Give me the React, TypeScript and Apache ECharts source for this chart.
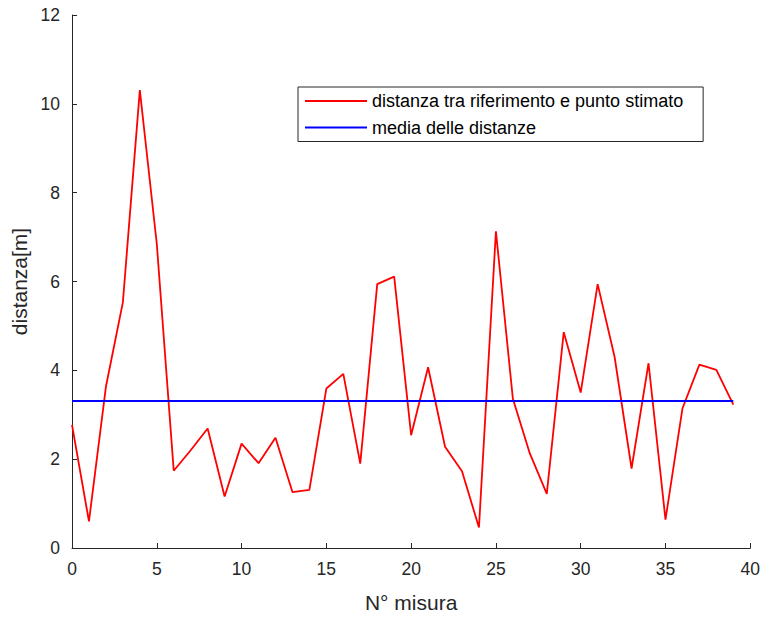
import React, { useEffect, useRef } from "react";
import * as echarts from "echarts";

const misure: number[] = Array.from({ length: 40 }, (_, i) => i);
const distanze: number[] = [
  2.77, 0.6, 3.63, 5.53, 10.31, 6.85, 1.74, 2.2, 2.69, 1.16,
  2.35, 1.91, 2.48, 1.26, 1.31, 3.59, 3.92, 1.9, 5.94, 6.11,
  2.54, 4.07, 2.28, 1.73, 0.46, 7.13, 3.36, 2.13, 1.22, 4.86,
  3.5, 5.94, 4.3, 1.79, 4.16, 0.64, 3.14, 4.13, 4.01, 3.23,
];
const mediaDistanze = 3.31;
const seriesNames = ["distanza tra riferimento e punto stimato", "media delle distanze"];
const xTicks = { min: 0, max: 40, interval: 5 };
const yTicks = { min: 0, max: 12, interval: 2 };

const FONT = "Liberation Sans, Arial, Helvetica, sans-serif";
const AX = "#262626";

export default function App() {
  const ref = useRef<HTMLDivElement>(null);
  useEffect(() => {
    if (!ref.current) return;
    const chart = echarts.init(ref.current, undefined, { renderer: "svg" });
    chart.setOption({
      animation: false,
      backgroundColor: "#ffffff",
      textStyle: { fontFamily: FONT },
      grid: { left: 72, right: 11, top: 15, bottom: 68 },
      legend: {
        orient: "vertical",
        left: 298,
        top: 87,
        padding: [5, 20, 5, 7],
        itemGap: 8.5,
        itemWidth: 62,
        itemHeight: 2,
        icon: "rect",
        borderColor: AX,
        borderWidth: 1,
        backgroundColor: "#ffffff",
        textStyle: { fontFamily: FONT, fontSize: 18, color: "#000000" },
        data: seriesNames,
      },
      xAxis: {
        type: "value",
        min: xTicks.min,
        max: xTicks.max,
        interval: xTicks.interval,
        name: "N° misura",
        nameLocation: "middle",
        nameGap: 44,
        nameTextStyle: { fontFamily: FONT, fontSize: 21, color: AX },
        axisLine: { show: true, onZero: false, lineStyle: { color: AX, width: 1 } },
        axisTick: { show: true, inside: true, length: 5, lineStyle: { color: AX } },
        axisLabel: { margin: 12, fontFamily: FONT, fontSize: 17.5, color: AX },
        splitLine: { show: false },
      },
      yAxis: {
        type: "value",
        min: yTicks.min,
        max: yTicks.max,
        interval: yTicks.interval,
        name: "distanza[m]",
        nameLocation: "middle",
        nameGap: 40,
        nameTextStyle: { fontFamily: FONT, fontSize: 21, color: AX },
        axisLine: { show: true, onZero: false, lineStyle: { color: AX, width: 1 } },
        axisTick: { show: true, inside: true, length: 5, lineStyle: { color: AX } },
        axisLabel: { margin: 12, fontFamily: FONT, fontSize: 17.5, color: AX },
        splitLine: { show: false },
      },
      series: [
        {
          name: seriesNames[0],
          type: "line",
          data: misure.map((m, i) => [m, distanze[i]]),
          symbol: "none",
          lineStyle: { color: "#ff0000", width: 1.8 },
          itemStyle: { color: "#ff0000" },
        },
        {
          name: seriesNames[1],
          type: "line",
          data: [
            [misure[0], mediaDistanze],
            [misure[misure.length - 1], mediaDistanze],
          ],
          symbol: "none",
          lineStyle: { color: "#0000ff", width: 1.8 },
          itemStyle: { color: "#0000ff" },
        },
      ],
    });
    return () => chart.dispose();
  }, []);
  return (
    <div
      ref={ref}
      style={{ position: "fixed", left: 0, top: 0, width: 763, height: 618 }}
    />
  );
}
